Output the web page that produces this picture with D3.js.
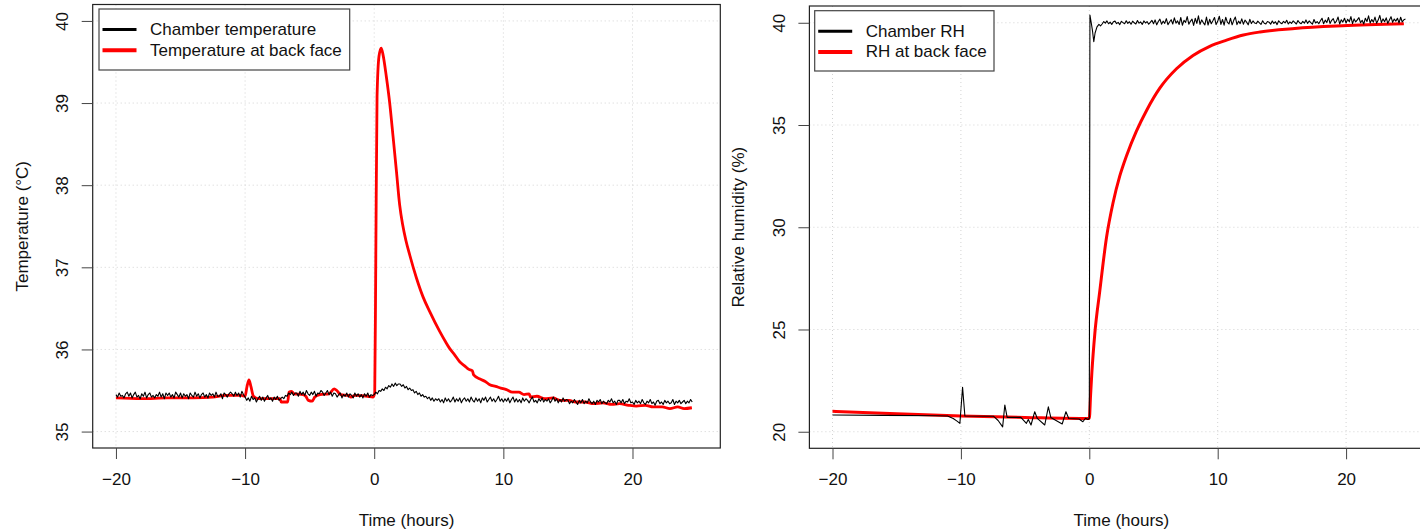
<!DOCTYPE html>
<html><head><meta charset="utf-8">
<script src="https://cdn.jsdelivr.net/npm/d3@7"></script>
<style>
html,body{margin:0;padding:0;background:#fff;}
text{font-family:"Liberation Sans",Arial,sans-serif;fill:#111;}
</style></head>
<body><svg id="c" width="1420" height="532"></svg>
<script>
// ---------- DATA ----------
const xTicks = [-20, -10, 0, 10, 20];
const tempTicks = [35, 36, 37, 38, 39, 40];
const rhTicks = [20, 25, 30, 35, 40];
const tempLegend = ["Chamber temperature", "Temperature at back face"];
const rhLegend = ["Chamber RH", "RH at back face"];

// Chamber temperature (°C): sampled every 0.125 h from -20 h (one row per hour)
const chamberTempStart = -20, chamberTempStep = 0.125;
const chamberTemp = [
35.45,35.42,35.47,35.43,35.44,35.41,35.46,35.48,
35.43,35.47,35.41,35.45,35.48,35.42,35.44,35.40,
35.46,35.43,35.48,35.41,35.45,35.47,35.42,35.44,
35.41,35.45,35.43,35.48,35.42,35.46,35.40,35.47,
35.44,35.47,35.42,35.45,35.41,35.48,35.45,35.42,
35.47,35.41,35.46,35.43,35.45,35.40,35.47,35.44,
35.42,35.48,35.43,35.46,35.41,35.45,35.47,35.42,
35.45,35.41,35.47,35.44,35.46,35.42,35.48,35.43,
35.43,35.46,35.40,35.47,35.45,35.42,35.46,35.48,
35.46,35.43,35.48,35.44,35.47,35.42,35.49,35.45,
35.42,35.38,35.41,35.37,35.43,35.39,35.41,35.36,
35.40,35.43,35.38,35.42,35.37,35.41,35.44,35.39,
35.41,35.37,35.42,35.39,35.43,35.38,35.40,35.42,
35.40,35.44,35.43,35.47,35.45,35.48,35.44,35.47,
35.47,35.43,35.49,35.45,35.48,35.44,35.50,35.46,
35.44,35.48,35.45,35.49,35.43,35.47,35.46,35.50,
35.48,35.44,35.47,35.50,35.45,35.48,35.43,35.47,
35.46,35.42,35.45,35.47,35.41,35.45,35.43,35.47,
35.42,35.46,35.44,35.41,35.47,35.43,35.46,35.42,
35.45,35.41,35.46,35.43,35.47,35.42,35.45,35.44,
35.45,35.48,35.46,35.50,35.49,35.52,35.50,35.54,
35.52,35.56,35.54,35.58,35.55,35.59,35.56,35.58,
35.58,35.55,35.57,35.53,35.55,35.51,35.53,35.50,
35.51,35.47,35.49,35.45,35.47,35.43,35.45,35.42,
35.43,35.40,35.42,35.38,35.41,35.37,35.40,35.38,
35.40,35.36,35.39,35.35,35.41,35.37,35.40,35.36,
35.38,35.42,35.36,35.40,35.37,35.41,35.35,35.39,
35.41,35.37,35.40,35.36,35.42,35.38,35.36,35.41,
35.37,35.40,35.35,35.41,35.38,35.42,35.36,35.39,
35.42,35.37,35.40,35.36,35.39,35.43,35.37,35.40,
35.36,35.40,35.37,35.41,35.35,35.39,35.42,35.36,
35.40,35.36,35.39,35.35,35.41,35.37,35.40,35.38,
35.35,35.39,35.42,35.36,35.38,35.35,35.40,35.37,
35.41,35.36,35.39,35.37,35.40,35.35,35.38,35.42,
35.37,35.40,35.35,35.39,35.36,35.41,35.37,35.39,
35.38,35.34,35.37,35.35,35.39,35.36,35.33,35.38,
35.35,35.39,35.34,35.37,35.35,35.40,35.36,35.34,
35.37,35.33,35.38,35.36,35.39,35.34,35.37,35.35,
35.34,35.38,35.36,35.40,35.35,35.37,35.33,35.38,
35.38,35.35,35.39,35.34,35.37,35.36,35.40,35.35,
35.36,35.33,35.38,35.35,35.37,35.34,35.39,35.35,
35.33,35.37,35.35,35.39,35.34,35.36,35.32,35.37,
35.38,35.34,35.36,35.33,35.38,35.35,35.37,35.34,
35.35,35.39,35.33,35.37,35.35,35.38,35.34,35.36,
35.38,35.34,35.37,35.35,35.39,35.36
];

// Temperature at back face: [time h, °C]
const backTemp = [
[-20,35.41],[-18,35.40],[-16,35.41],[-14,35.41],[-12.5,35.42],[-11.5,35.44],[-10.3,35.44],[-10.0,35.43],
[-9.85,35.55],[-9.7,35.63],[-9.55,35.55],[-9.35,35.43],[-9.0,35.40],[-8,35.40],[-7.3,35.40],[-7.2,35.36],
[-6.7,35.36],[-6.6,35.48],[-6.4,35.49],[-6.2,35.46],[-5.5,35.45],[-5.3,35.43],[-5.1,35.38],[-4.8,35.37],
[-4.6,35.42],[-4.2,35.45],[-3.5,35.46],[-3.1,35.52],[-2.9,35.50],[-2.6,35.45],[-2,35.44],[-1.8,35.42],
[-1.5,35.44],[-0.5,35.43],[-0.1,35.42],[0.04,35.47],[0.12,37.05],[0.22,39.08],[0.37,39.57],[0.54,39.67],
[0.68,39.59],[0.94,39.32],[1.2,39.0],[1.46,38.59],[1.72,38.17],[1.97,37.76],[2.2,37.52],[2.45,37.33],
[2.75,37.15],[3.27,36.87],[3.78,36.64],[4.3,36.46],[5.07,36.22],[5.5,36.10],[5.85,36.01],[6.2,35.94],
[6.62,35.85],[7.0,35.80],[7.3,35.76],[7.6,35.74],[7.7,35.69],[8.2,35.64],[8.6,35.61],[8.95,35.57],
[9.4,35.55],[9.8,35.53],[10.24,35.51],[10.7,35.48],[11.2,35.48],[11.6,35.45],[12.0,35.46],[12.1,35.42],
[12.6,35.43],[13.2,35.40],[13.85,35.41],[14.4,35.38],[15.1,35.38],[15.6,35.36],[16.3,35.36],[17.0,35.34],
[17.7,35.35],[18.4,35.33],[19.0,35.34],[19.7,35.32],[20.3,35.31],[21.0,35.32],[21.6,35.30],[22.3,35.30],
[22.9,35.28],[23.5,35.30],[24.0,35.28],[24.6,35.29]
];

// Chamber RH before and during the step: [time h, %]
const chamberRhEarly = [
[-20,20.82],[-16,20.80],[-12,20.78],[-11.04,20.77],[-10.6,20.65],[-10.3,20.52],[-10.08,20.41],[-9.87,22.17],
[-9.69,20.77],[-7.47,20.76],[-7.1,20.55],[-6.75,20.24],[-6.58,21.31],[-6.40,20.70],[-5.33,20.70],[-4.90,20.41],
[-4.75,20.60],[-4.54,20.33],[-4.25,20.98],[-4.05,20.65],[-3.47,20.33],[-3.19,21.22],[-3.0,20.70],[-2.11,20.38],
[-1.82,20.98],[-1.6,20.65],[-0.8,20.62],[-0.5,20.49],[-0.3,20.66],[-0.1,20.60],[0.0,20.65],
[0.05,40.38],[0.15,40.0],[0.25,39.6],[0.35,39.07],[0.45,39.5],[0.6,39.8],[0.75,39.92],[0.875,39.85]
];
// Chamber RH after the step: sampled every 0.125 h from 1 h (one row per hour)
const chamberRhStart = 1.0, chamberRhStep = 0.125;
const chamberRh = [
39.94,40.06,39.98,40.09,39.95,40.03,39.92,40.05,
40.08,39.96,40.02,39.91,40.07,40.01,39.95,40.10,
39.97,40.05,39.93,40.08,40.00,39.94,40.11,39.98,
40.04,39.92,40.09,39.99,40.06,39.93,40.02,40.12,
39.95,40.14,39.90,40.06,40.18,39.93,40.08,39.97,
40.20,39.91,40.04,40.15,39.94,40.24,39.98,40.09,
39.92,40.26,39.88,40.12,40.02,40.30,39.93,40.07,
40.18,39.87,40.22,39.97,40.34,39.92,40.14,40.01,
39.90,40.28,39.89,40.17,39.95,40.10,40.26,39.91,
40.07,40.32,39.92,40.16,39.88,40.27,40.03,39.94,
40.22,39.90,40.12,40.28,39.91,40.08,39.96,40.19,
39.93,40.13,40.03,39.90,40.17,39.96,40.09,39.99,
39.96,40.08,40.00,39.92,40.10,39.98,39.94,40.06,
40.03,39.93,40.09,39.97,40.05,39.91,40.10,40.00,
39.95,40.07,39.99,40.12,39.94,40.04,39.97,40.09,
40.02,39.94,40.11,40.00,39.95,40.07,39.98,40.14,
39.97,40.09,40.01,39.93,40.16,39.99,40.06,39.95,
40.10,40.22,39.95,40.13,40.01,40.26,39.97,40.12,
40.20,39.98,40.08,40.28,39.94,40.15,40.03,40.22,
39.99,40.17,40.05,40.30,39.96,40.19,40.04,40.14,
40.25,40.00,40.12,39.94,40.22,40.06,40.34,39.99,
40.16,40.03,40.28,39.98,40.13,40.36,40.01,40.19,
40.05,40.24,39.97,40.14,40.30,40.02,40.18,40.08,
40.22,39.99,40.27,40.04,40.15,40.18
];

// RH at back face: [time h, %]
const backRh = [
[-20,21.0],[-15,20.88],[-10,20.77],[-5,20.70],[0,20.65],[0.1,21.8],[0.2,22.9],[0.43,24.8],[0.82,26.9],
[1.34,29.5],[1.85,31.2],[2.37,32.5],[2.9,33.5],[3.67,34.7],[4.45,35.7],[5.49,36.8],[6.79,37.75],[8.08,38.4],
[9.38,38.85],[10.69,39.15],[12.0,39.4],[13.3,39.55],[16.0,39.72],[19.7,39.85],[24.5,39.95]
];

// ---------- DRAW ----------
const svg = d3.select("#c");
const FONT = 17;
const FAM = '"Liberation Sans",Arial,sans-serif';

function panel(o) {
  const g = svg.append("g");
  const x = d3.scaleLinear().domain([-21.8, 26.8]).range([o.left, o.right]);
  const y = d3.scaleLinear().domain(o.ydom).range([o.bottom, o.top]);

  // grid
  g.append("g").selectAll("line").data(xTicks).join("line")
    .attr("x1", d => x(d)).attr("x2", d => x(d)).attr("y1", o.top).attr("y2", o.bottom)
    .attr("stroke", "#d3d3d3").attr("stroke-dasharray", "1,3");
  g.append("g").selectAll("line").data(o.yticks).join("line")
    .attr("x1", o.left).attr("x2", o.right).attr("y1", d => y(d)).attr("y2", d => y(d))
    .attr("stroke", "#d3d3d3").attr("stroke-dasharray", "1,3");

  // clip
  const cid = "clip" + o.id;
  svg.append("clipPath").attr("id", cid).append("rect")
    .attr("x", o.left).attr("y", o.top).attr("width", o.right - o.left).attr("height", o.bottom - o.top);
  const plot = g.append("g").attr("clip-path", `url(#${cid})`);

  plot.append("path").datum(o.red)
    .attr("d", d3.line().x(d => x(d[0])).y(d => y(d[1])).curve(d3.curveMonotoneX))
    .attr("fill", "none").attr("stroke", "#ff0000").attr("stroke-width", o.redW)
    .attr("stroke-linejoin", "round");
  plot.append("path").datum(o.black)
    .attr("d", d3.line().x(d => x(d[0])).y(d => y(d[1])))
    .attr("fill", "none").attr("stroke", "#000").attr("stroke-width", 1.1)
    .attr("stroke-linejoin", "round");

  // box
  g.append("rect").attr("x", o.left).attr("y", o.top)
    .attr("width", o.right - o.left).attr("height", o.bottom - o.top)
    .attr("fill", "none").attr("stroke", "#222").attr("stroke-width", 1.2);

  // x axis ticks + labels
  const xa = g.append("g").attr("transform", `translate(0,${o.bottom})`)
    .call(d3.axisBottom(x).tickValues(xTicks).tickSize(11).tickPadding(0)
      .tickFormat(d => d < 0 ? "\u2212" + Math.abs(d) : d));
  xa.select(".domain").remove();
  xa.selectAll(".tick line").attr("stroke", "#444");
  xa.selectAll(".tick text").attr("y", 37).attr("dy", 0).attr("font-size", FONT)
    .attr("font-family", FAM).attr("fill", "#111");

  // y axis ticks + rotated labels
  const ya = g.append("g").attr("transform", `translate(${o.left},0)`)
    .call(d3.axisLeft(y).tickValues(o.yticks).tickSize(11).tickFormat(d3.format("d")));
  ya.select(".domain").remove();
  ya.selectAll(".tick line").attr("stroke", "#444");
  ya.selectAll(".tick text")
    .attr("x", null).attr("dy", null)
    .attr("transform", "translate(-30,0) rotate(-90)")
    .attr("text-anchor", "middle").attr("dominant-baseline", "central")
    .attr("font-size", FONT).attr("font-family", FAM).attr("fill", "#111");

  // axis titles
  g.append("text").attr("x", (o.left + o.right) / 2).attr("y", 526)
    .attr("text-anchor", "middle").attr("font-size", FONT).text("Time (hours)");
  g.append("text").attr("transform", `translate(${o.left - 70.5},${(o.top + o.bottom) / 2}) rotate(-90)`)
    .attr("text-anchor", "middle").attr("dominant-baseline", "central")
    .attr("font-size", FONT).text(o.ylabel);

  // legend
  const L = o.legend;
  g.append("rect").attr("x", L.x).attr("y", L.y).attr("width", L.w).attr("height", L.h)
    .attr("fill", "#fff").attr("stroke", "#444").attr("stroke-width", 1.2);
  const items = [{t: o.legendText[0], c: "#000", w: 3}, {t: o.legendText[1], c: "#ff0000", w: 4}];
  items.forEach((it, i) => {
    const yy = L.y + 20.5 + i * 20.7;
    g.append("line").attr("x1", L.x + 3.5).attr("x2", L.x + 37.5).attr("y1", yy).attr("y2", yy)
      .attr("stroke", it.c).attr("stroke-width", it.w);
    g.append("text").attr("x", L.x + 51).attr("y", yy).attr("dominant-baseline", "central")
      .attr("font-size", FONT).text(it.t);
  });
}

const chamberTempPts = chamberTemp.map((v, i) => [chamberTempStart + i * chamberTempStep, v]);
const chamberRhPts = chamberRhEarly.concat(chamberRh.map((v, i) => [chamberRhStart + i * chamberRhStep, v]));

panel({
  id: "L", left: 92.7, right: 720.3, top: 4.5, bottom: 448,
  ydom: [34.8, 40.2], yticks: tempTicks, ylabel: "Temperature (\u00B0C)",
  red: backTemp, redW: 2.8, black: chamberTempPts,
  legend: {x: 99, y: 9, w: 250.7, h: 61}, legendText: tempLegend
});
panel({
  id: "R", left: 809.4, right: 1433.4, top: 6, bottom: 448.3,
  ydom: [19.19, 40.82], yticks: rhTicks, ylabel: "Relative humidity (%)",
  red: backRh, redW: 3, black: chamberRhPts,
  legend: {x: 814.7, y: 10.7, w: 179.3, h: 60.3}, legendText: rhLegend
});
</script></body></html>
